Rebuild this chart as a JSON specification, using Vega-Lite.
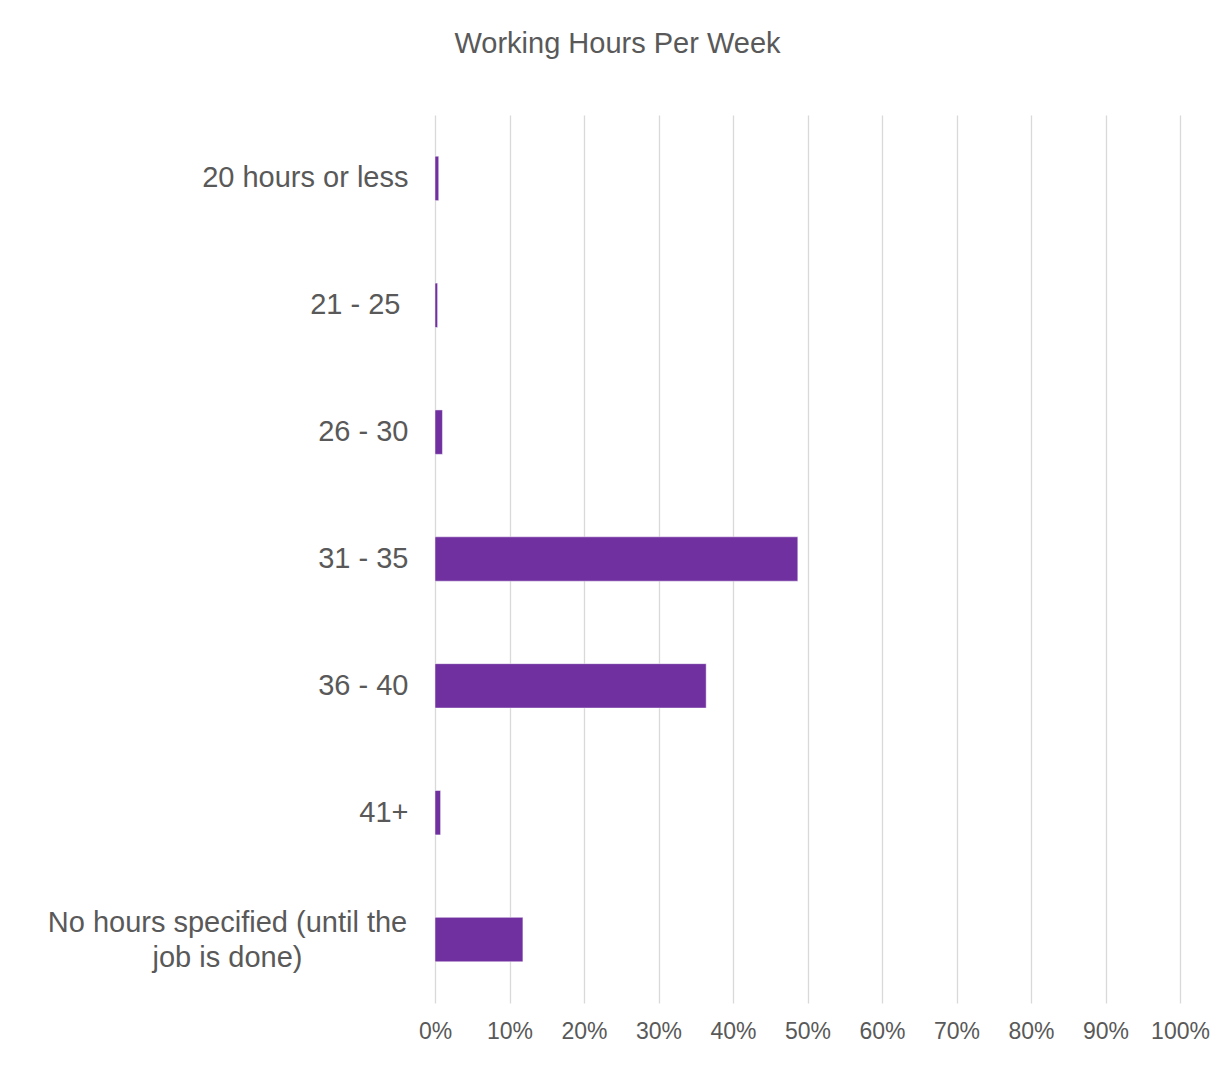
{
  "$schema": "https://vega.github.io/schema/vega-lite/v6.json",
  "autosize": "none",
  "width": 745,
  "height": 888,
  "padding": {"left": 435, "top": 115, "right": 41, "bottom": 86},
  "background": "white",
  "title": {
    "text": "Working Hours Per Week",
    "font": "Liberation Sans",
    "fontSize": 29,
    "fontWeight": "normal",
    "color": "#595959",
    "anchor": "middle",
    "dx": -190,
    "baseline": "alphabetic",
    "offset": 33
  },
  "data": {
    "values": [
      {"hours": "20 hours or less", "share": 0.005},
      {"hours": "21 - 25 ", "share": 0.0035},
      {"hours": "26 - 30", "share": 0.01},
      {"hours": "31 - 35", "share": 0.487},
      {"hours": "36 - 40", "share": 0.364},
      {"hours": "41+", "share": 0.0075},
      {"hours": "No hours specified (until the job is done)", "share": 0.118}
    ]
  },
  "mark": {"type": "bar", "color": "#7030A0", "stroke": "#ffffff", "strokeWidth": 0.8, "strokeOpacity": 0.6},
  "encoding": {
    "y": {
      "field": "hours",
      "type": "nominal",
      "sort": null,
      "scale": {"paddingInner": 0.65, "paddingOuter": 0.325},
      "axis": {
        "title": null,
        "domain": false,
        "ticks": false,
        "grid": false,
        "labelFont": "Liberation Sans",
        "labelFontSize": 29,
        "labelColor": "#595959",
        "labelLineHeight": 35,
        "labelLimit": 500,
        "labelExpr": "datum.value == 'No hours specified (until the job is done)' ? ['No hours specified (until the', 'job is done)'] : datum.label",
        "labelAlign": {"condition": {"test": "datum.value == 'No hours specified (until the job is done)'", "value": "center"}, "value": "right"},
        "labelPadding": {"condition": [
          {"test": "datum.value == 'No hours specified (until the job is done)'", "value": 208},
          {"test": "datum.value == '21 - 25 '", "value": 35}
        ], "value": 27},
        "labelOffset": {"condition": {"test": "datum.value == 'No hours specified (until the job is done)'", "value": -17}, "value": 0}
      }
    },
    "x": {
      "field": "share",
      "type": "quantitative",
      "scale": {"domain": [0, 1], "nice": false},
      "axis": {
        "title": null,
        "format": ".0%",
        "values": [0, 0.1, 0.2, 0.3, 0.4, 0.5, 0.6, 0.7, 0.8, 0.9, 1],
        "domain": false,
        "ticks": false,
        "grid": true,
        "gridColor": "#d9d9d9",
        "gridWidth": 1.3,
        "labelFont": "Liberation Sans",
        "labelFontSize": 23,
        "labelColor": "#595959",
        "labelPadding": 17,
        "labelFlush": false
      }
    }
  },
  "config": {"view": {"stroke": null}}
}
